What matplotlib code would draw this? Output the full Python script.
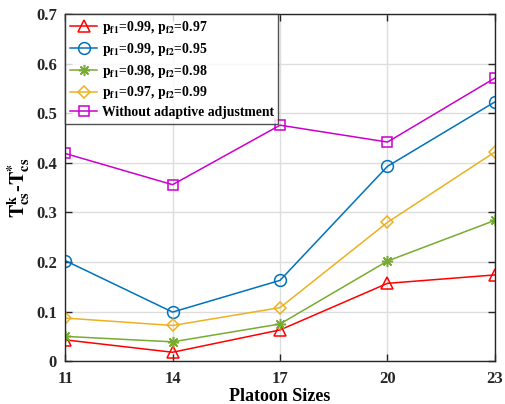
import matplotlib
matplotlib.use("Agg")
import matplotlib.pyplot as plt

plt.rcParams['font.family'] = ['Liberation Serif', 'DejaVu Serif']
plt.rcParams['font.weight'] = 'bold'
plt.rcParams['mathtext.fontset'] = 'stix'

sizes = [11, 14, 17, 20, 23]
red_vals = [0.043, 0.018, 0.063, 0.157, 0.174]
blue_vals = [0.203, 0.099, 0.163, 0.393, 0.523]
green_vals = [0.050, 0.039, 0.075, 0.202, 0.284]
orange_vals = [0.087, 0.072, 0.108, 0.280, 0.422]
magenta_vals = [0.419, 0.356, 0.476, 0.442, 0.571]
labels = [r'$\mathbf{p}_{\mathbf{f1}}$=0.99, $\mathbf{p}_{\mathbf{f2}}$=0.97',
          r'$\mathbf{p}_{\mathbf{f1}}$=0.99, $\mathbf{p}_{\mathbf{f2}}$=0.95',
          r'$\mathbf{p}_{\mathbf{f1}}$=0.98, $\mathbf{p}_{\mathbf{f2}}$=0.98',
          r'$\mathbf{p}_{\mathbf{f1}}$=0.97, $\mathbf{p}_{\mathbf{f2}}$=0.99',
          'Without adaptive adjustment']

fig = plt.figure(figsize=(5.05, 4.04), dpi=100)
ax = fig.add_axes([0.129, 0.106, 0.851, 0.859])

series = [(red_vals, '#FF0000', '^', 9),
          (blue_vals, '#0072BD', 'o', 8.5),
          (green_vals, '#77AC30', (8, 2, 0), 8),
          (orange_vals, '#EDB120', 'D', 6.5),
          (magenta_vals, '#CC00CC', 's', 6.5)]
for (vals, c, m, ms), lab in zip(series, labels):
    ax.plot(sizes, vals, color=c, marker=m, markersize=ms, markerfacecolor='none',
            markeredgecolor=c, markeredgewidth=1.1, linewidth=1.1, label=lab)

ax.set_xlim(11, 23)
ax.set_ylim(0, 0.7)
ax.set_xticks(sizes)
ax.set_yticks([0, 0.1, 0.2, 0.3, 0.4, 0.5, 0.6, 0.7])
ax.set_yticklabels(['0', '0.1', '0.2', '0.3', '0.4', '0.5', '0.6', '0.7'])
ax.grid(True, color='#DDDDDD', linewidth=1.0)
ax.set_axisbelow(True)
ax.tick_params(direction='in', top=True, right=True, labelsize=12, length=5, width=1, colors='#262626')
ax.tick_params(axis='x', pad=7)
ax.tick_params(axis='y', pad=6)
for s in ax.spines.values():
    s.set_color('#262626')
    s.set_linewidth(1.0)
for t in ax.get_xticklabels() + ax.get_yticklabels():
    t.set_fontweight('bold')
    t.set_color('#262626')

ax.set_xlabel('Platoon Sizes', fontsize=13, fontweight='bold', labelpad=1)
ax.set_ylabel(r'$\mathbf{T}^{\mathbf{k}}_{\mathbf{cs}}$-$\mathbf{T}^{*}_{\mathbf{cs}}$',
              fontsize=14.5, fontweight='bold', labelpad=3)

leg = ax.legend(loc='upper left', fontsize=9.9, frameon=True, fancybox=False,
                edgecolor='#262626', borderaxespad=0.0, handlelength=2.0,
                handletextpad=0.3, labelspacing=0.35, borderpad=0.35)
leg.get_frame().set_linewidth(1.0)
for t in leg.get_texts():
    t.set_fontweight('bold')

fig.savefig('out.png', dpi=100)
